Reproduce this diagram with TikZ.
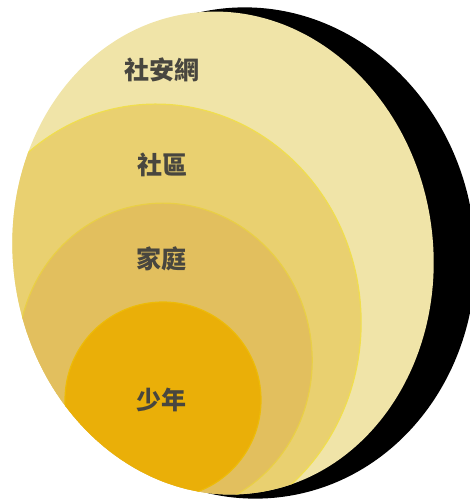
\documentclass[tikz,border=0pt]{standalone}
\usepackage{fontspec}
\newfontfamily\cjk{Noto Sans CJK TC}
\definecolor{shellblack}{HTML}{000000}
\definecolor{netcream}{HTML}{F0E4A8}
\definecolor{communityyellow}{HTML}{E9D070}
\definecolor{familyochre}{HTML}{E2BF5E}
\definecolor{youthgold}{HTML}{EAAF08}
\definecolor{labelgrey}{HTML}{48463F}
\tikzset{
  ringlabel/.style={anchor=center,inner sep=0pt,text=labelgrey,font=\cjk\bfseries\fontsize{25}{30}\selectfont},
  ringedge/.style={draw=#1,line width=1.2pt}
}
\begin{document}
\begin{tikzpicture}[x=1pt, y=-1pt, line join=round]

  %% ════ 底层：黑色月牙（偏右的大椭圆）════
  \fill[shellblack, rotate around={8:(250,253)}] (250,253) ellipse [x radius=225, y radius=246];

  %% ════ 社安網：最外层 ════
  \fill[netcream, rotate around={8:(223,253)}] (223,253) ellipse [x radius=210, y radius=242];

  %% ════ 内层圆：全部裁在最外层里 ════
  \begin{scope}
    \clip[rotate around={8:(223,253)}] (223,253) ellipse [x radius=210, y radius=242];
    \fill[communityyellow, ringedge=communityyellow!70!yellow, rotate around={5:(158,320)}] (158,320) ellipse [x radius=203, y radius=216];
    \fill[familyochre, ringedge=familyochre!75!yellow, rotate around={8:(165,358)}] (165,358) ellipse [x radius=147, y radius=155];
    \fill[youthgold, ringedge=youthgold!85!yellow] (163,400) circle (98);
  \end{scope}

  %% ════ 标签 ════
  \node[ringlabel] (netlabel) at (162,70) {社安網};
  \node[ringlabel] (communitylabel) at (162,165) {社區};
  \node[ringlabel] (familylabel) at (161.5,259) {家庭};
  \node[ringlabel] (youthlabel) at (161.5,400) {少年};

  % 钉死画布
  \pgfresetboundingbox
  \path[use as bounding box] (0,0) rectangle (469,500);
\end{tikzpicture}
\end{document}
